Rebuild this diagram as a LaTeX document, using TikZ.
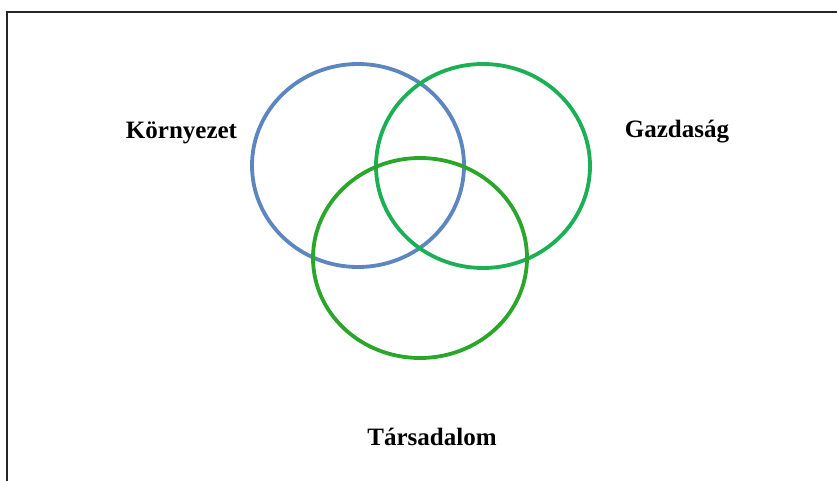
\documentclass[tikz,border=0pt]{standalone}
\usepackage{fontspec}
\setmainfont{Liberation Serif}
\usetikzlibrary{shapes.geometric}
\begin{document}
\begin{tikzpicture}[x=1pt,y=-1pt,
  ring/.style={line width=3.8pt},
  lbl/.style={font=\bfseries\fontsize{25}{27}\selectfont, inner sep=0pt, anchor=base}]
\definecolor{envblue}{HTML}{5B86C0}
\definecolor{ecogreen}{HTML}{1CB055}
\definecolor{socgreen}{HTML}{2AA62A}
\useasboundingbox (0,0) rectangle (837,481);
\fill[white] (0,0) rectangle (837,481);
\coordinate (tl) at (7,12);
\coordinate (tr) at (840,12);
\coordinate (bl) at (7,484);
\draw[line width=2pt, black!85] (tr) -- (tl) -- (bl);
\node[draw=envblue, ring, ellipse, minimum width=212, minimum height=203, inner sep=0pt] (env) at (358,165.5) {};
\node[draw=ecogreen, ring, ellipse, minimum width=214, minimum height=204, inner sep=0pt] (eco) at (483,166) {};
\node[draw=socgreen, ring, ellipse, minimum width=214, minimum height=200, inner sep=0pt] (soc) at (420,258) {};
\node[lbl] (lenv) at (181.5,139) {Környezet};
\node[lbl] (leco) at (677,138) {Gazdaság};
\node[lbl] (lsoc) at (432,445) {Társadalom};
\end{tikzpicture}
\end{document}
